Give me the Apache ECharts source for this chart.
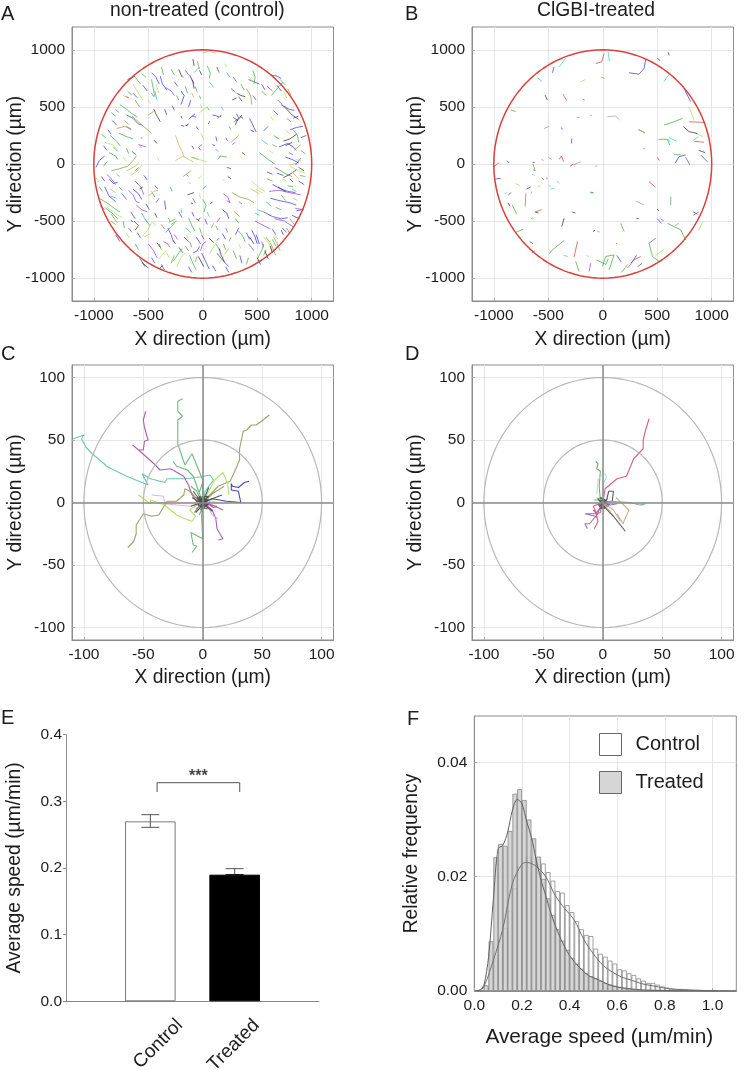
<!DOCTYPE html>
<html><head><meta charset="utf-8">
<style>html,body{margin:0;padding:0;background:#fff}#c{width:744px;height:1070px}</style>
<script src="https://cdn.jsdelivr.net/npm/echarts@6/dist/echarts.min.js"></script>
</head><body><div id="c"></div>
<script>
// ---------- tick labels ----------
const ticksAB = [-1000,-500,0,500,1000];
const ticksCD = [-100,-50,0,50,100];
const ticksF_x = [0,0.2,0.4,0.6,0.8,1.0];
const ticksF_y = [0,0.02,0.04];
const categoriesE = ['', 'Control', 'Treated', ''];
const labelNamesE = ['Control','Treated'];
const labelTicksE = [1.35,2.26];
// ---------- panel A tracks (um, x,y,x,y...) ----------
const A_blue = [
[-700,430,-640,400,-590,350,-560,340],[-470,800,-430,760,-400,700],[-390,770,-370,700,-330,650],
[-200,640,-170,600,-200,520],[-110,560,-130,500],[-70,440,-120,400],[-60,330,-40,300],[-200,340,-170,330],
[-980,-30,-950,30,-900,70],[-900,-200,-860,-280,-800,-330],[-640,-220,-590,-260,-560,-310],[-350,-320,-340,-400],
[-320,-560,-290,-620,-270,-680],[-60,-640,-20,-700],[-10,-780,30,-860,60,-920],[-30,-720,-50,-760,-90,-780],
[180,-400,220,-430,240,-480],[450,-580,480,-640,500,-700],[560,-420,640,-460,720,-480,780,-470],
[620,-300,700,-320,800,-340,860,-360],[640,-180,720,-220,780,-240,850,-250],[860,-410,910,-400],[820,-450,890,-480],
[700,150,780,180,830,150,860,120],[800,300,860,320,920,330],[620,780,680,770,720,750],[420,740,470,720,520,700],
[330,590,360,550],[430,400,470,320,490,280],[310,440,330,400,290,370],[490,-620,520,-700],[720,520,790,480,840,470],
[760,60,820,40,880,10],[900,50,850,-10],[-660,-420,-620,-480],[-220,-730,-180,-780],[130,-780,190,-850,240,-900],
[-580,-820,-530,-900],[-800,-620,-760,-680],[90,430,130,420,150,410],[-10,-620,10,-660],
[-930,-110,-900,-150],[-860,-130,-820,-170,-780,-160],[-740,-260,-700,-310],[-520,-350,-490,-400],[-440,-430,-420,-470],[-600,-600,-570,-650],
[-470,-820,-440,-870],[-380,-880,-350,-930],[-130,-900,-100,-950],[90,-890,120,-940],[210,-900,240,-950],[340,-800,360,-870],[400,-600,430,-660],
[300,-620,330,-560],[640,-570,670,-620],[730,-560,770,-600],[680,-80,740,-100],[880,-150,930,-180],[590,-70,640,-90],[900,230,950,250],[830,400,880,420],
[650,470,690,430],[560,290,600,330],[210,230,230,200],[120,240,130,200],[360,100,390,80],[-100,160,-80,130],[-40,150,-20,120],[-350,480,-330,430],
[-280,510,-260,470],[-260,720,-230,680],[-160,820,-130,780],[130,850,150,800],[260,660,300,630],[540,700,570,650],[680,690,720,640],[-550,690,-510,640],
[-640,620,-600,580],[-830,380,-790,340],[-870,300,-840,260],[-910,160,-880,120],[-650,110,-610,80],[-540,-100,-510,-140],[-440,-190,-410,-220],
[-220,-420,-190,-470],[-100,-420,-80,-460],[20,-480,40,-530],[180,-610,210,-660],[-30,150,-10,170],[220,-30,260,-40],[-150,340,-130,350],[50,350,65,375]];
const A_green = [
[-760,520,-700,480,-650,440,-600,410],[-470,740,-450,640,-440,590],[-380,850,-360,780],[-770,270,-700,240,-640,220],
[-850,250,-790,200,-760,160],[-860,100,-800,70,-780,40],[-700,140,-680,90],[-160,680,-140,620],[40,860,70,800,60,750],
[-950,-300,-880,-340,-810,-390,-760,-420],[-900,-380,-820,-440,-780,-480],[-730,-500,-720,-560],[-340,-600,-300,-560,-260,-520],
[-120,-800,-90,-870,-60,-930],[-270,-850,-220,-780,-190,-740],[30,-190,0,-220],[0,-310,30,-360,10,-420],
[-30,-560,-10,-610],[120,-700,160,-760],[280,-760,310,-830],[500,-830,540,-760,560,-700],[640,-660,670,-720],
[320,-580,360,-620,390,-680],[630,600,700,680,740,720],[460,820,480,760,470,700],[830,300,870,250,880,190],
[700,-50,770,-90,820,-110],[520,100,600,40,660,0],[-40,40,-100,60],[220,60,160,70,140,40],[-620,560,-580,500],
[-590,-30,-620,-60],[-130,-470,-100,-540,-70,-590],[-240,-500,-290,-530],
[-910,-20,-880,20],[-820,150,-780,110],[-930,260,-890,230],[-840,450,-800,420],[-690,640,-650,600],[-560,790,-520,760],[-290,830,-260,780],[-240,600,-220,560],
[-70,680,-50,630],[220,800,250,760],[350,700,380,650],[540,640,580,600],[770,400,810,370],[650,250,700,220],[900,120,940,90],[590,-130,640,-150],[780,-190,830,-200],
[670,-380,720,-400],[770,-560,800,-610],[560,-800,580,-750],[400,-880,420,-820],[190,-700,210,-750],[-120,-680,-100,-730],[-400,-700,-380,-750],[-620,-700,-590,-750],
[-840,-500,-800,-530],[-950,-200,-920,-240],[-470,-240,-440,-290],[-300,-200,-280,-240],[120,-540,140,-580],[300,-480,330,-520],[40,500,60,470],[-30,600,-20,570],[240,330,260,300]];
const A_lime = [
[-640,700,-590,620,-550,560],[-430,700,-400,620],[-660,-100,-600,-60,-560,-10],[-560,-640,-500,-570,-470,-510],
[-240,-900,-200,-820,-160,-780],[-400,-830,-340,-760],[60,-790,90,-740,130,-680],[450,-150,520,-210,570,-240],
[550,-260,490,-220],[740,640,770,580],[150,-870,190,-810],[420,770,460,720],[-880,-380,-790,-440,-740,-470],
[560,-640,610,-700,640,-780],[-20,270,10,220],[-30,450,10,480,50,500],[-10,-100,-40,-130],[800,-20,880,-60,940,-80],
[-110,60,-40,40,40,20],[-900,190,-830,170,-790,130],
[-500,560,-480,530],[-190,780,-170,750],[200,880,220,850],[620,420,650,380],[760,300,800,260],[610,120,650,90],[850,40,900,30],[730,-130,770,-150],
[830,-300,870,-320],[660,-620,690,-660],[330,-700,350,-740],[-150,-620,-130,-660],[-330,-780,-310,-820],[-700,-610,-670,-650],[-980,-120,-950,-160],[-730,60,-700,20],
[-420,60,-400,30],[-590,170,-560,140],[-30,-260,-20,-300],[180,-130,200,-150],[340,70,360,50]];
const A_purple = [
[-680,-230,-640,-270,-610,-330,-580,-340],[-610,-360,-560,-400,-510,-420],[-880,-90,-840,-130,-800,-180],
[-360,-680,-320,-700,-300,-730],[-500,-700,-450,-760,-420,-820],[-20,-760,0,-700,30,-680],[190,-260,230,-290,250,-340,220,-320],
[480,-500,560,-540,620,-570],[660,-480,750,-500,830,-550],[610,-240,700,-230,790,-250,900,-270],[-130,390,-100,420,-60,410],
[140,400,170,430,160,410],[-340,670,-290,640,-260,600],[420,-700,470,-760],[590,680,640,640],[-520,150,-590,170],
[160,-470,130,-510],[300,190,270,170],[850,-390,930,-400],[-90,-300,-70,-340],[-430,-340,-400,-300],[-620,-150,-570,-200,-540,-270],
[-700,330,-660,300],[-800,480,-770,450],[-470,620,-450,590],[-100,740,-80,700],[280,760,310,720],[460,600,490,560],[690,560,730,520],[790,100,830,80],[660,-30,700,-50],
[330,-330,360,-350],[-160,-720,-130,-760],[-260,-620,-230,-660],[-680,-560,-650,-600],[-940,-370,-900,-400],[120,130,140,110],[-150,-90,-130,-110],[210,-560,230,-600],[540,-680,560,-730]];
const A_dark = [
[-450,480,-420,420,-390,370],[-120,780,-90,720,-80,660],[-220,830,-190,760],[-90,920,-80,860],[360,430,310,370,300,340],
[310,620,350,600,390,590],[740,510,820,430,880,390],[860,260,800,220,740,200],[820,190,760,160],[860,-50,800,-90,740,-120],
[-630,-500,-590,-540,-620,-580],[-420,-690,-390,-730],[-40,-810,10,-900],[150,-740,170,-800,200,-860],[430,-640,470,-700],
[570,-760,600,-830],[500,-820,530,-880],[-80,-250,-140,-270],[-40,-490,-20,-470],[-560,-860,-500,-910],[-620,770,-690,740],
[270,560,310,580],[-450,210,-420,180],[60,-650,100,-690],[690,-200,760,-240],[-170,-640,-130,-680],
[-30,820,-10,780],[-200,420,-190,400],[-160,340,-140,335],[280,410,320,380],[340,420,370,400],[440,300,470,280],[880,-30,930,-60],[800,-130,830,-160],[620,-720,640,-780],
[-60,-480,-30,-500],[130,-670,150,-650],[-660,-490,-640,-510],[-400,-920,-370,-890],[720,-580,740,-620],[70,-350,90,-330],[-110,-340,-90,-350],[-270,-670,-250,-700],[-580,-220,-550,-200],[90,170,110,160],[230,-110,260,-130]];
const A_teal = [
[-560,-430,-520,-500,-480,-540],[-440,640,-420,560],[60,720,100,670],[500,-400,560,-420],[540,210,600,170],
[580,-330,630,-370],[-160,-560,-110,-600],[-850,-280,-790,-300],[700,750,760,690],[-80,800,-30,850],[-200,-390,-190,-430],[40,-420,60,-460],
[480,-430,520,-450],[-530,-480,-500,-520],[170,500,190,470],[-790,-90,-760,-110],[820,-220,860,-240],[-320,-470,-300,-500]];
const A_olive = [
[-840,-60,-760,-40,-690,-20,-640,30,-610,70],[-650,420,-580,360,-520,310,-470,270],[-790,310,-720,330,-660,310],
[-450,460,-500,430],[-30,830,-50,900],[270,-250,340,-290,420,-310,470,-340],[290,-420,340,-460],[670,-800,620,-690,580,-640],
[710,-760,680,-690,650,-640],[800,-480,840,-530],[400,660,440,600,450,520],[900,170,840,120],[-310,-510,-250,-480],
[-840,-440,-780,-520],[-290,-870,-260,-800],[-180,-110,-110,-60],[760,-320,720,-270],[-620,760,-570,700],[330,250,260,190],
[-770,-200,-740,-230],[-720,380,-680,350],[780,660,810,600],[-70,-860,-50,-810],[240,-680,260,-640],[640,170,680,150],[890,-100,940,-110],[-380,-530,-350,-570],[80,-560,100,-520]];
const A_orange = [
[-250,250,-220,170,-190,110,-170,60],[-250,30,-180,70,-130,40,-90,20],[-700,-60,-620,-20,-580,20],[-500,-280,-450,-240,-410,-230],
[0,970,60,990,120,970],[200,-790,240,-740],[440,-220,520,-260],[880,-130,820,-70],[-540,-640,-480,-610],[-20,520,-10,490],[-730,600,-680,580],
[-100,620,-80,580],[-850,-220,-800,-250],[-130,-160,-110,-170],[800,-10,860,10],[-460,-510,-430,-540]];
const A_red = [[-700,590,-680,580],[-570,230,-555,225]];
// ---------- panel B tracks ----------
const B_blue = [[394,915,379,837,333,787,242,799],[-446,851,-462,799],[-284,224,-287,181],[-982,-131,-936,-125],[664,6,700,64,761,79],
[899,79,960,20],[746,662,807,545],[-866,-270,-840,-250],[500,-480,540,-520],[130,-800,170,-860],[260,-870,310,-800],[-670,-680,-640,-700],
[830,-420,870,-440],[-860,10,-880,30],[600,980,610,950],[-380,320,-370,300],[320,-900,360,-870],[-700,-220,-660,-200],[-645,15,-625,12],[500,930,525,905]];
const B_green = [[-600,755,-560,726],[-187,568,-165,560],[563,341,654,370,731,399],[511,216,593,216,615,166],[654,85,715,79],
[-706,-257,-712,-373],[-830,-360,-790,-440],[624,-286,624,-359],[165,-519,196,-592],[-355,-671,-462,-752,-492,-787],
[593,-519,716,-577,761,-665],[425,-694,456,-810,517,-854],[-3,-898,27,-810,104,-796,58,-927],[-60,-840,30,-880,50,-830],
[-248,-854,-217,-942],[-844,472,-800,460],[-115,-255,-85,-248],[-115,-245,-85,-255],[-640,-50,-620,-60],[-800,-600,-730,-570],[230,-880,170,-950]];
const B_lime = [[792,501,838,385],[-800,-170,-760,-190],[486,-800,560,-750],[-200,720,-160,740],[850,270,920,240],[-600,-200,-570,-190],[880,-580,920,-500]];
const B_teal = [[-340,924,-400,851],[50,980,60,900],[-500,-180,-480,-200],[-360,-800,-320,-810],[610,230,680,200],[560,720,620,800],[-420,-150,-400,-170],[-900,-260,-880,-250]];
const B_purple = [[486,-650,425,-694],[-110,-869,-125,-942],[880,-420,830,-450],[-520,-120,-505,-130],[-560,40,-545,30],[530,-480,560,-500],[760,60,800,-10]];
const B_dark = [[-529,603,-508,560],[740,327,792,283,868,268],[501,-397,515,-410],[-355,-475,-376,-548],[-620,-420,-590,-430],[880,120,940,100],[-280,-420,-250,-430],[310,-475,330,-480],[-90,-590,-70,-580],[-870,-340,-850,-370]];
const B_gray = [[43,414,119,420,156,385],[303,-324,379,-359],[-540,310,-490,330],[327,303,388,274],[-70,-20,-50,-15],[-270,-10,-200,20],[-660,-260,-650,-240],[660,-540,700,-520],[370,130,390,140],[-240,410,-210,405],[-120,430,-100,425]];
const B_red = [[12,968,-9,895,-64,880],[-364,612,-330,554],[792,370,930,364],[425,-155,486,-204],[-997,-23,-951,12],[-232,-679,-263,-816],[226,-913,287,-840,349,-810],
[840,200,930,190],[-400,40,-380,70,-360,20],[-300,-20,-270,0],[-620,-420,-560,-400],[500,60,520,30],[120,-700,130,-695],[-650,-780,-620,-760]];
const B_olive = [[-640,0,-620,-60],[-560,-120,-540,-140],[-500,60,-470,40],[-50,-590,-30,-595],[327,300,388,270],[-660,-480,-640,-470],[-10,760,15,750]];
const B_cyan = [[-480,-220,-440,-210],[-650,-90,-625,-100],[820,200,880,240],[-150,-800,-130,-810],[620,190,600,220]];
// ---------- panel C tracks ----------
const C_teal = [[-109,51,-100,54,-102,51,-98,44,-93,39,-83,31,-81,29,-64,21,-46,14,-51,23,-44,19,-32,16,-30,19,-15,19,-5,20,6,22,9,18,2,9,0,0]];
const C_magenta = [[-48,73,-50,66,-49,60,-46,50,-49,49,-50,42,-54,42,-59,46,-54,42,-41,31,-36,26,-27,27,-16,21,-12,14,-9,6,-5,1,0,0],
[13,-30,17,-29,15,-26,12,-21,11,-13,8,-6,0,0],[-7,-8,-3,-3,0,0],[6,-2,9,-4,12,-3,5,-2,0,0],[17,-6,8,-2,0,0]];
const C_green = [[-17,83,-21,81,-21,73,-17,69,-21,66,-21,47,-15,30,-9,39,0,18,0,0],[-25,33,-22,29,-13,26,-8,21,0,0],[-9,-40,-5,-35,-8,-34,-10,-24,0,-29,-1,-11,0,0],[0,16,-3,8,0,0],[-10,13,-5,9,-2,2],[-6,-5,-2,-3,0,0],[-3,-10,0,-4,2,1]];
const C_olive = [[56,70,48,64,45,62,41,62,37,58,34,57,31,43,31,34,26,23,23,17,13,13,6,6,0,0],[-63,-36,-58,-31,-56,-25,-56,-18,-50,-9,-43,-11,-37,-10,-30,1,-22,1,-16,6,-15,11,-11,9,-5,3,0,0],[18,13,8,7,2,1]];
const C_blue = [[39,17,35,16,30,12,25,13,24,15,24,10,30,9,32,0,20,1,8,3,0,0]];
const C_lime = [[-54,6,-44,-1,-44,2,-32,-2,-22,-10,-15,-13,-9,-15,-6,-11,-11,-6,-5,-2,0,0],[22,6,21,15,17,24,10,18,5,9,0,0],[14,0,6,1,0,0]];
const C_pink = [[-43,6,-33,5,-32,-1,-22,-2,-11,-3,0,0],[13,-13,8,-10,5,-5,0,0]];
const C_dark = [[16,6,8,3,0,0],[-8,9,-4,4,0,0],[5,12,2,5,0,0],[-6,-8,-2,-4,0,0],[-10,-3,-4,-1,0,0],[8,-7,3,-3,0,0],[-9,4,-4,1,0,0],[4,-4,-3,3,5,2,-2,-3,0,0],[3,-5,-4,-2,5,5,-5,4,2,-3],[-3,5,4,-2,-2,-6,6,0],[-6,1,3,3,-1,-4,4,-5]];
// ---------- panel D tracks ----------
const D_red = [[39,67,36,58,34,50,34,43,26,35,20,21,12,19,2,11,0,0],[-7,-21,-4,-15,-6,-7,-8,-3,-3,-1,0,0],[-6,-12,-3,-6,0,0],[-8,-6,-5,-9,-2,-8,-1,-3]];
const D_green = [[-6,33,-4,31,-5,27,-2,25,-3,13,-2,2,0,0],[-7,2,-3,2,0,0],[-5,3,-1,4,1,1]];
const D_cyan = [[-5,7,-4,18,-1,22,2,23,3,20,0,14,0,0]];
const D_dark = [[3,1,5,9,9,9,8,1,0,0],[19,-23,9,-11,3,-5,0,0],[-4,3,0,-2,4,3,-3,-3,2,-5,0,0],[-2,4,3,-1,-4,-2,5,-3,1,3],[6,-1,-2,-5,2,2,-3,1]];
const D_tealgray = [[36,-1,31,-2,23,0,6,1,0,0],[33,-2,36,-1]];
const D_tan = [[11,4,22,-6,17,-17,12,-9,15,-15,9,-6,2,-1],[7,-8,3,-4,0,0]];
const D_purple = [[-13,-21,-15,-17,-11,-17,-6,-11,-15,-9,-16,-8,-6,-9,-2,-4,0,0],[12,-1,6,-2,0,0]];
// ---------- panel E values ----------
const barE = [null, 0.27, 0.19, null];
const errE = [[1,0.261,0.28],[2,0.19,0.199]];
const bracketE = [[1.08,0.314],[1.08,0.328],[2.06,0.328],[2.06,0.314]];
// ---------- panel F histogram (bin centres and relative frequency) ----------
const binsF = [0.03,0.05,0.07,0.09,0.11,0.13,0.15,0.17,0.19,0.21,0.23,0.25,0.27,0.29,0.31,0.33,0.35,0.37,0.39,0.41,0.43,0.45,0.47,0.49,0.51,0.53,0.55,0.57,0.59,0.61,0.63,0.65,0.67,0.69,0.71,0.73,0.75,0.77,0.79,0.81,0.83,0.85,0.87,0.89,0.91,0.93,0.95,0.97,0.99,1.01];
const histControl = [0.0001,0.0006,0.003,0.0057,0.0082,0.011,0.014,0.018,0.0217,0.0235,0.0235,0.0228,0.023,0.0223,0.0208,0.0193,0.0175,0.0172,0.015,0.0138,0.0122,0.0108,0.0098,0.0096,0.0074,0.0065,0.006,0.0053,0.0048,0.0038,0.0036,0.0031,0.0028,0.0022,0.0018,0.0014,0.0014,0.0011,0.0008,0.0006,0.0004,0.0003,0.00035,0.00025,0.00015,0.0001,0.0001,0.00005,0.00005,0.00005];
const histTreated = [0.0001,0.001,0.0087,0.0234,0.0257,0.0254,0.028,0.0345,0.0353,0.0334,0.03,0.0267,0.0235,0.0196,0.0162,0.0133,0.0108,0.0088,0.0072,0.0058,0.0047,0.0039,0.0031,0.0026,0.0022,0.0018,0.0014,0.0011,0.0009,0.0007,0.0005,0.0004,0.0003,0.0002,0.00015,0.0001,0.0001,0.00005,0.00005,0.00003,0,0,0,0,0,0,0,0,0,0];
const curveControl = [[0,0],[0.02,0.0001],[0.04,0.0007],[0.08,0.0054],[0.12,0.0109],[0.16,0.0188],[0.2,0.0222],[0.222,0.0225],[0.26,0.0218],[0.3,0.02],[0.34,0.0167],[0.38,0.0144],[0.42,0.0124],[0.46,0.009],[0.5,0.0065],[0.54,0.0045],[0.58,0.0033],[0.62,0.0024],[0.66,0.0019],[0.7,0.0013],[0.75,0.0009],[0.8,0.0005],[0.85,0.0003],[0.9,0.0002],[1.0,0.00005],[1.1,0]];
const curveTreated = [[0,0],[0.02,0.0001],[0.04,0.001],[0.06,0.006],[0.08,0.016],[0.1,0.0249],[0.12,0.0255],[0.14,0.0278],[0.16,0.0316],[0.18,0.0335],[0.2,0.0328],[0.22,0.0296],[0.24,0.0269],[0.26,0.0229],[0.28,0.0194],[0.3,0.0167],[0.32,0.0138],[0.34,0.0115],[0.36,0.0094],[0.38,0.0077],[0.4,0.0062],[0.44,0.0042],[0.48,0.0027],[0.52,0.002],[0.56,0.0012],[0.6,0.0007],[0.7,0.0002],[0.8,0.0001],[0.9,0],[1.1,0]];
// ---------- reference circle radii ----------
const radiusAB = [1000];
const radiiCD = [50,100];

const FONT = '"Liberation Sans", Arial, sans-serif';
const TXT = '#1c1c1c';
const FRAME = '#8c8c8c';
const GRID = '#e6e6e6';
const NAME = 19.3, TICK = 15.5;
const chart = echarts.init(document.getElementById('c'), null, {renderer:'canvas'});

function flat(tracks){
  const out=[];
  tracks.forEach((t,k)=>{ if(k) out.push(['-','-']); for(let i=0;i<t.length;i+=2) out.push([t[i],t[i+1]]); });
  return out;
}
function trackSeries(tracks,color,idx,width,op){
  return {type:'line',xAxisIndex:idx,yAxisIndex:idx,data:flat(tracks),showSymbol:false,symbol:'none',silent:true,
    connectNulls:false,lineStyle:{color,width:width||0.8,opacity:op||0.9},animation:false,z:3};
}
function circleSeries(r,color,width,idx){
  const pts=[]; for(let a=0;a<=360;a+=3){pts.push([r*Math.cos(a*Math.PI/180),r*Math.sin(a*Math.PI/180)]);}
  return {type:'line',xAxisIndex:idx,yAxisIndex:idx,data:pts,showSymbol:false,symbol:'none',silent:true,
    lineStyle:{color,width},animation:false,z:4};
}
function axisCommon(ticks,fmt){
  return {
    axisLine:{show:true,onZero:false,lineStyle:{color:FRAME,width:1}},
    axisTick:{show:true,inside:true,length:3,lineStyle:{color:'#aaa'},customValues:ticks},
    splitLine:{show:true,lineStyle:{color:GRID,width:1}},
    axisLabel:{color:TXT,fontFamily:FONT,fontSize:TICK,margin:7,customValues:ticks,formatter:fmt||(v=>String(v)),hideOverlap:false,showMinLabel:true,showMaxLabel:true}
  };
}
function xAx(idx,range,ticks,name,gap){
  return Object.assign({type:'value',gridIndex:idx,min:-range,max:range,name,nameLocation:'middle',nameGap:gap,
    nameTextStyle:{color:TXT,fontFamily:FONT,fontSize:NAME}},axisCommon(ticks));
}
function yAx(idx,range,ticks,name,gap){
  return Object.assign({type:'value',gridIndex:idx,min:-range,max:range,name,nameLocation:'middle',nameGap:gap,nameMoveOverlap:false,
    nameTextStyle:{color:TXT,fontFamily:FONT,fontSize:NAME}},axisCommon(ticks));
}
const G={outerBoundsMode:'none',containLabel:false};
const grids=[
 {...G,left:72,top:27,width:261.5,height:274,show:true,borderColor:FRAME,borderWidth:1},
 {...G,left:472,top:27,width:261.5,height:274,show:true,borderColor:FRAME,borderWidth:1},
 {...G,left:72,top:365,width:261.5,height:275,show:true,borderColor:FRAME,borderWidth:1},
 {...G,left:472,top:365,width:261.5,height:275,show:true,borderColor:FRAME,borderWidth:1},
 {...G,left:66,top:734.7,width:253,height:266.6},
 {...G,left:474.3,top:716,width:262,height:275,show:true,borderColor:FRAME,borderWidth:1}
];
const xAxes=[
 xAx(0,1200,ticksAB,'X direction (µm)',29),
 xAx(1,1200,ticksAB,'X direction (µm)',29),
 xAx(2,110,ticksCD,'X direction (µm)',28),
 xAx(3,110,ticksCD,'X direction (µm)',28),
 {type:'category',gridIndex:4,data:categoriesE,boundaryGap:false,position:'bottom',
  axisLine:{lineStyle:{color:'#888'}},axisTick:{show:false},splitLine:{show:false},axisLabel:{show:false}},
 Object.assign({type:'value',gridIndex:5,min:0,max:1.1,name:'Average speed (µm/min)',nameLocation:'middle',nameGap:36,
    nameTextStyle:{color:TXT,fontFamily:FONT,fontSize:20.8,padding:[0,12,0,0]}},axisCommon(ticksF_x,v=>v.toFixed(1))),
 {type:'value',gridIndex:4,min:0,max:3,position:'bottom',splitLine:{show:false},axisLine:{show:false},axisTick:{show:false},
  axisLabel:{show:true,customValues:labelTicksE,rotate:45,margin:21,color:TXT,fontFamily:FONT,fontSize:19,
    formatter:v=>labelNamesE[labelTicksE.indexOf(v)],hideOverlap:false,showMinLabel:true,showMaxLabel:true}}
];
const yAxes=[
 yAx(0,1200,ticksAB,'Y direction (µm)',47),
 yAx(1,1200,ticksAB,'Y direction (µm)',47),
 yAx(2,110,ticksCD,'Y direction (µm)',47),
 yAx(3,110,ticksCD,'Y direction (µm)',47),
 {type:'value',gridIndex:4,min:0,max:0.4,interval:0.1,name:'Average speed (µm/min)',nameLocation:'middle',nameGap:42,
  nameTextStyle:{color:TXT,fontFamily:FONT,fontSize:NAME},
  axisLine:{show:true,lineStyle:{color:FRAME}},axisTick:{show:true,length:3,lineStyle:{color:FRAME}},splitLine:{show:false},
  axisLabel:{color:TXT,fontFamily:FONT,fontSize:TICK,margin:4,formatter:v=>v.toFixed(1)}},
 Object.assign({type:'value',gridIndex:5,min:0,max:0.0481,name:'Relative frequency',nameLocation:'middle',nameGap:53,
    nameTextStyle:{color:TXT,fontFamily:FONT,fontSize:NAME}},axisCommon(ticksF_y,v=>v.toFixed(2)))
];
function crossSeries(idx){
  return {type:'line',xAxisIndex:idx,yAxisIndex:idx,data:[],silent:true,animation:false,
    markLine:{silent:true,symbol:'none',animation:false,label:{show:false},lineStyle:{color:'#8a8a8a',width:1.5,type:'solid'},
      data:[{xAxis:0},{yAxis:0}]}};
}
const series=[];
[[A_blue,'#3535d8'],[A_green,'#3fa93f'],[A_lime,'#a5e25a'],[A_purple,'#8c42e6'],[A_dark,'#2c2c2c'],[A_teal,'#2fc0a8'],[A_olive,'#86963a'],[A_orange,'#d8a860'],[A_red,'#d83030']]
 .forEach(([t,c])=>series.push(trackSeries(t,c,0)));
[[B_blue,'#3535d8'],[B_green,'#3fa93f'],[B_lime,'#a5e25a'],[B_teal,'#3fd0b8'],[B_purple,'#8c42e6'],[B_dark,'#2c2c2c'],[B_gray,'#9a9a9a'],[B_red,'#d84040'],[B_olive,'#86963a'],[B_cyan,'#50d0e0']]
 .forEach(([t,c])=>series.push(trackSeries(t,c,1)));
radiusAB.forEach(r=>{series.push(circleSeries(r,'#d9423c',1.5,0));series.push(circleSeries(r,'#d9423c',1.5,1));});
radiiCD.forEach(r=>{series.push(circleSeries(r,'#b8b8b8',1.2,2));series.push(circleSeries(r,'#b8b8b8',1.2,3));});
series.push(crossSeries(2));series.push(crossSeries(3));
[[C_teal,'#5cc0a8'],[C_magenta,'#a84aa8'],[C_green,'#62b070'],[C_olive,'#8f9a55'],[C_blue,'#3030b0'],[C_lime,'#a8e060'],[C_pink,'#e0a8e0'],[C_dark,'#444']]
 .forEach(([t,c])=>series.push(trackSeries(t,c,2,1.1)));
[[D_red,'#d84a72'],[D_green,'#58b058'],[D_cyan,'#a8dde0'],[D_dark,'#444'],[D_tealgray,'#7aa898'],[D_tan,'#c8a888'],[D_purple,'#8a62c8']]
 .forEach(([t,c])=>series.push(trackSeries(t,c,3,1.1)));
// Panel E
series.push({type:'bar',xAxisIndex:4,yAxisIndex:4,barWidth:50.6,animation:false,silent:true,
  data:barE.map((v,i)=>v==null?'-':{value:v,itemStyle:{color:i===1?'#fff':'#000',borderColor:i===1?'#7a7a7a':'#000',borderWidth:1}})});
series.push({type:'custom',xAxisIndex:6,yAxisIndex:4,data:errE,silent:true,animation:false,z:5,
  encode:{x:0,y:[1,2]},
  renderItem:(p,api)=>{
    const a=api.coord([api.value(0),api.value(1)]),b=api.coord([api.value(0),api.value(2)]);
    const style={stroke:'#555',lineWidth:1,fill:null};
    return {type:'group',children:[
      {type:'line',shape:{x1:a[0],y1:a[1],x2:b[0],y2:b[1]},style},
      {type:'line',shape:{x1:a[0]-9,y1:a[1],x2:a[0]+9,y2:a[1]},style:{stroke:p.dataIndex===1?'#000':'#555',lineWidth:1}},
      {type:'line',shape:{x1:b[0]-9,y1:b[1],x2:b[0]+9,y2:b[1]},style}]};
  }});
series.push({type:'line',xAxisIndex:6,yAxisIndex:4,data:bracketE,showSymbol:false,symbol:'none',silent:true,animation:false,lineStyle:{color:'#555',width:1}});
series.push({type:'scatter',xAxisIndex:6,yAxisIndex:4,data:[[1.57,0.337]],symbolSize:0,silent:true,animation:false,
  label:{show:true,formatter:'***',position:'inside',color:'#111',fontFamily:FONT,fontWeight:'bold',fontSize:16}});
// Panel F
series.push({name:'Control',type:'bar',xAxisIndex:5,yAxisIndex:5,barWidth:4.77,barGap:'-100%',animation:false,silent:true,
  data:binsF.map((b,i)=>[b,histControl[i]]),itemStyle:{color:'#ffffff',borderColor:'#8a8a8a',borderWidth:0.8},z:2});
series.push({name:'Treated',type:'bar',xAxisIndex:5,yAxisIndex:5,barWidth:4.77,barGap:'-100%',animation:false,silent:true,
  data:binsF.map((b,i)=>[b,histTreated[i]]),itemStyle:{color:'rgba(210,210,210,0.9)',borderColor:'#8a8a8a',borderWidth:0.8},z:3});
series.push({type:'line',xAxisIndex:5,yAxisIndex:5,data:curveControl,smooth:0.3,showSymbol:false,symbol:'none',silent:true,animation:false,lineStyle:{color:'#707070',width:1},z:5});
series.push({type:'line',xAxisIndex:5,yAxisIndex:5,data:curveTreated,smooth:0.3,showSymbol:false,symbol:'none',silent:true,animation:false,lineStyle:{color:'#606060',width:1},z:5});

const ttl=(text,left,top,size)=>({text,left,top,padding:0,textStyle:{color:TXT,fontFamily:FONT,fontWeight:'normal',fontSize:size,lineHeight:size}});
chart.setOption({
  animation:false,backgroundColor:'#fff',
  title:[
    ttl('A',1,4,20),ttl('B',405,4,20),ttl('C',1,344,20),ttl('D',405,344,20),ttl('E',1,708,20),ttl('F',407,709,20),
    ttl('non-treated (control)',110,1,19.3),ttl('ClGBI-treated',537,1,19.3)
  ],
  grid:grids,xAxis:xAxes,yAxis:yAxes,series,
  legend:{data:['Control','Treated'],left:599,top:733,padding:0,orient:'vertical',itemWidth:22,itemHeight:22,itemGap:15,icon:'rect',selectedMode:false,
    itemStyle:{borderColor:'#666',borderWidth:1},
    textStyle:{color:TXT,fontFamily:FONT,fontSize:20,padding:[0,0,0,9]}}
});
</script></body></html>
